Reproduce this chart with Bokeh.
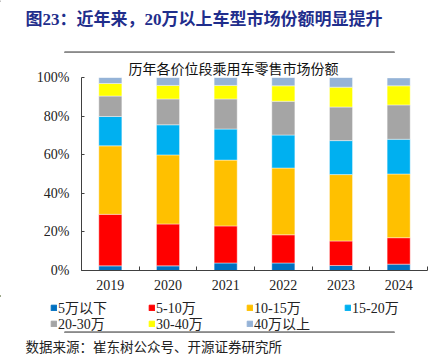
from bokeh.plotting import figure
from bokeh.layouts import column
from bokeh.models import (Range1d, FixedTicker, NumeralTickFormatter, Label, Legend,
                          LegendItem, Title)
from bokeh.embed import file_html
from bokeh.resources import INLINE

# ---- data ----
years = ["2019", "2020", "2021", "2022", "2023", "2024"]
segments = ["5万以下", "5-10万", "10-15万", "15-20万", "20-30万", "30-40万", "40万以上"]
s_lt5 = [2.4, 2.4, 3.9, 3.9, 2.6, 3.3]
s_5_10 = [26.7, 21.7, 19.2, 14.6, 12.7, 13.7]
s_10_15 = [35.5, 35.8, 34.1, 34.6, 34.4, 33.0]
s_15_20 = [15.2, 15.6, 16.1, 17.1, 17.6, 18.0]
s_20_30 = [10.6, 13.4, 15.6, 17.5, 17.4, 17.8]
s_30_40 = [6.5, 7.0, 7.0, 8.0, 10.3, 9.9]
s_gt40 = [3.1, 4.1, 4.1, 4.3, 5.0, 4.1]
y_ticks = [0, 0.2, 0.4, 0.6, 0.8, 1.0]

main_title = "图23：近年来，20万以上车型市场份额明显提升"
chart_title = "历年各价位段乘用车零售市场份额"
source_text = "数据来源：崔东树公众号、开源证券研究所"

colors = ["#0070C0", "#FF0000", "#FFC000", "#00B0F0", "#A5A5A5", "#FFFF00", "#95B3D7"]
series = [s_lt5, s_5_10, s_10_15, s_15_20, s_20_30, s_30_40, s_gt40]

SERIF = "'Liberation Serif', 'Noto Sans CJK SC', serif"
CJK = "'Noto Sans CJK SC', sans-serif"
W = 444
H_TOP, H_CHART, H_BOT = 56, 239, 66
RULE_COLOR = "#8A8A8A"


def blank_fig(h):
    f = figure(width=W, height=h, output_backend="svg", toolbar_location=None,
               x_range=Range1d(0, W), y_range=Range1d(h, 0),
               x_axis_location=None, y_axis_location=None,
               min_border=0, min_border_left=0, min_border_right=0,
               min_border_top=0, min_border_bottom=0)
    f.outline_line_color = None
    f.grid.visible = False
    return f


def rule(f, y_from_bottom):
    # a horizontal separator drawn as a wide, thin legend swatch
    swatch = f.vbar(x=[-1000], top=[1], width=1, color=RULE_COLOR)
    f.add_layout(Legend(items=[LegendItem(label=" ", renderers=[swatch])],
                        location=(23, y_from_bottom), orientation="horizontal",
                        glyph_width=412, glyph_height=2, label_width=0, label_height=2,
                        label_standoff=0, label_text_font_size="1px", spacing=0,
                        padding=0, margin=0, border_line_color=None,
                        background_fill_alpha=0), "center")


# ---- top: main title + rule ----
top = blank_fig(H_TOP)
top.add_layout(Label(x=25, y=18.5, text=main_title, text_font=SERIF, text_font_style="bold",
                     text_font_size="17px", text_color="#1F2E8C",
                     text_baseline="middle", text_align="left"))
rule(top, 3)

# ---- chart ----
data = {"x": [i + 0.5 for i in range(len(years))]}
keys = []
for i, s in enumerate(series):
    k = f"s{i}"
    keys.append(k)
    data[k] = [v / 100.0 for v in s]

p = figure(width=W, height=H_CHART, output_backend="svg", toolbar_location=None,
           x_range=Range1d(0, len(years)), y_range=Range1d(0, 1),
           min_border_left=81, min_border_right=17, min_border_top=20, min_border_bottom=25)
p.outline_line_color = None
p.xgrid.visible = False
p.ygrid.visible = False
p.title = Title(text=chart_title, align="left", text_font=CJK, text_font_style="normal",
                text_font_size="14px", text_color="#111111", standoff=-1, offset=47)

renderers = p.vbar_stack(keys, x="x", width=0.4, source=data, color=colors,
                         line_color="white", line_width=0.6, line_alpha=0.7)

ya = p.yaxis[0]
ya.ticker = FixedTicker(ticks=y_ticks)
ya.formatter = NumeralTickFormatter(format="0%")
ya.major_label_text_font = SERIF
ya.major_label_text_font_size = "14px"
ya.major_label_text_color = "#222222"
ya.major_tick_in = 3
ya.major_tick_out = 0
ya.minor_tick_line_color = None
ya.major_label_standoff = 12
ya.axis_line_color = "#404040"
ya.major_tick_line_color = "#404040"

xa = p.xaxis[0]
xa.ticker = FixedTicker(ticks=[i + 0.5 for i in range(len(years))],
                        minor_ticks=list(range(len(years) + 1)))
xa.major_label_overrides = {i + 0.5: y for i, y in enumerate(years)}
xa.major_tick_in = 0
xa.major_tick_out = 0
xa.minor_tick_in = 4
xa.minor_tick_out = 0
xa.minor_tick_line_color = "#404040"
xa.axis_line_color = "#404040"
xa.major_label_text_font = SERIF
xa.major_label_text_font_size = "14px"
xa.major_label_text_color = "#222222"
xa.major_label_standoff = 9

# ---- bottom: legend (two rows) + rule + source ----
bot = blank_fig(H_BOT)
dummies = [bot.vbar(x=[-1000], top=[1], width=1, color=c) for c in colors]
items = [LegendItem(label=segments[i], renderers=[dummies[i]]) for i in range(len(segments))]


def make_legend(its, loc):
    return Legend(items=its, location=loc, orientation="horizontal",
                  glyph_width=7, glyph_height=7, label_standoff=1, label_width=90,
                  label_height=14, spacing=0,
                  label_text_font=SERIF, label_text_font_size="14px",
                  label_text_color="#222222",
                  padding=0, margin=0, border_line_color=None, background_fill_alpha=0)


bot.add_layout(make_legend(items[:4], (50, 44)), "center")
bot.add_layout(make_legend(items[4:], (50, 28)), "center")
rule(bot, 28)
bot.add_layout(Label(x=25, y=50, text=source_text, text_font=CJK, text_font_size="13.5px",
                     text_color="#222222", text_baseline="middle", text_align="left"))

layout = column(column(top), column(p), column(bot), spacing=0)
open("out.html", "w").write(file_html(layout, INLINE))
